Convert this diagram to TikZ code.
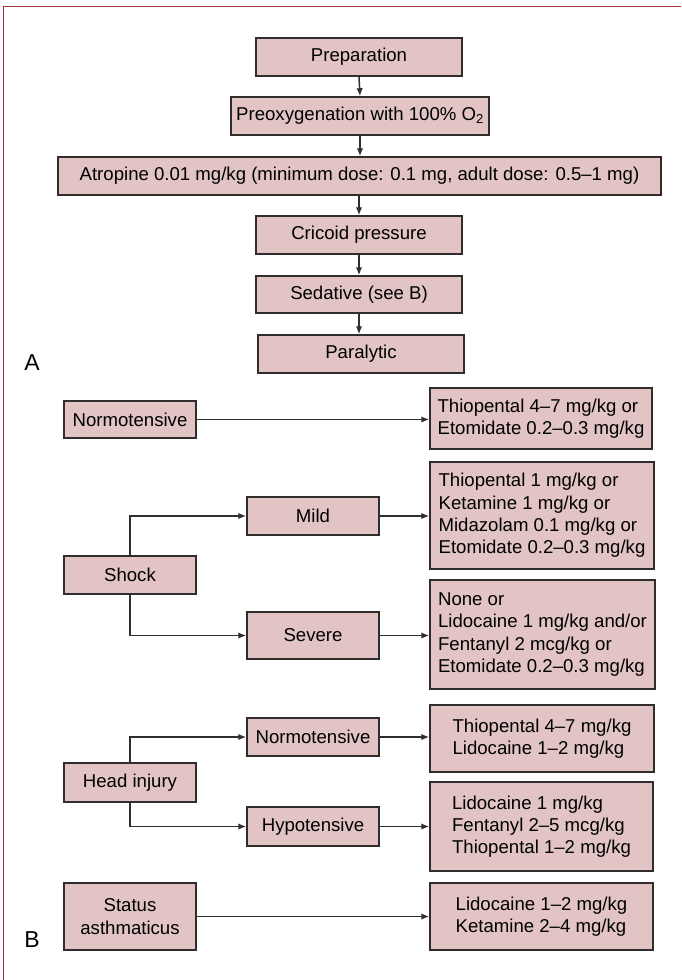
\documentclass[tikz,border=0pt]{standalone}
\usepackage{fontspec}
\setmainfont{Liberation Sans}
\usetikzlibrary{arrows.meta}
\definecolor{boxfill}{RGB}{225,196,195}
\definecolor{boxline}{RGB}{50,45,45}
\definecolor{framecol}{RGB}{160,50,60}
\begin{document}
\begin{tikzpicture}[x=1pt,y=-1pt,
  box/.style={draw=boxline,fill=boxfill,line width=1.5pt,inner sep=0pt,
    font=\fontsize{18.6}{22.3}\selectfont,align=center},
  drug/.style={box,align=left},
  arr/.style={draw=boxline,line width=1.5pt,-{Latex[length=8pt,width=6.5pt]}},
  lab/.style={font=\fontsize{23}{23}\selectfont,inner sep=0pt}]
\useasboundingbox (0,0) rectangle (681,980);
\fill[white] (0,0) rectangle (681,980);
\draw[framecol,line width=1.2pt] (3.5,980) -- (3.5,6.5) -- (681,6.5);

% Part A
\node[box,minimum width=206pt,minimum height=38pt] (prep) at (359,57) {Preparation};
\node[box,minimum width=258pt,minimum height=38pt] (preox) at (360,116) {Preoxygenation with 100\% O\textsubscript{2}};
\node[box,minimum width=603pt,minimum height=38pt] (atro) at (359.5,176) {Atropine 0.01 mg/kg (minimum dose: 0.1 mg, adult dose: 0.5–1 mg)};
\node[box,minimum width=206pt,minimum height=38pt] (cric) at (359,235) {Cricoid pressure};
\node[box,minimum width=206pt,minimum height=37pt] (sed) at (359,294.5) {Sedative (see B)};
\node[box,minimum width=206pt,minimum height=38pt] (para) at (361,354) {Paralytic};
\node[lab] (labA) at (32,363) {A};

\draw[arr] (prep.south) -- (preox.north);
\draw[arr] (preox.south) -- (atro.north -| preox.south);
\draw[arr] (atro.south -| cric.north) -- (cric.north);
\draw[arr] (cric.south) -- (sed.north);
\draw[arr] (sed.south) -- (sed.south |- para.north);

% Part B
\node[box,minimum width=132pt,minimum height=37pt] (nt) at (130,419.5) {Normotensive};
\node[drug,minimum width=222pt,minimum height=61pt] (ntd) at (541,418.5) {Thiopental 4–7 mg/kg or\\Etomidate 0.2–0.3 mg/kg};

\node[box,minimum width=132pt,minimum height=38pt] (mild) at (313,516) {Mild};
\node[drug,minimum width=224pt,minimum height=107pt] (mildd) at (542,515.5) {Thiopental 1 mg/kg or\\Ketamine 1 mg/kg or\\Midazolam 0.1 mg/kg or\\Etomidate 0.2–0.3 mg/kg};
\node[box,minimum width=132pt,minimum height=38pt] (shock) at (130,575) {Shock};
\node[box,minimum width=132pt,minimum height=47pt] (sev) at (313,635.5) {Severe};
\node[drug,minimum width=225pt,minimum height=109pt] (sevd) at (542.5,634.5) {None or\\Lidocaine 1 mg/kg and/or\\Fentanyl 2 mcg/kg or\\Etomidate 0.2–0.3 mg/kg};

\node[box,minimum width=132pt,minimum height=38pt] (hn) at (313,737) {Normotensive};
\node[drug,minimum width=224pt,minimum height=67pt] (hnd) at (542,738.5) {Thiopental 4–7 mg/kg\\Lidocaine 1–2 mg/kg};
\node[box,minimum width=132pt,minimum height=39pt] (head) at (130,782.5) {Head injury};
\node[box,minimum width=132pt,minimum height=39pt] (hyp) at (313,826.5) {Hypotensive};
\node[drug,minimum width=223pt,minimum height=89pt] (hypd) at (541.5,826.5) {Lidocaine 1 mg/kg\\Fentanyl 2–5 mcg/kg\\Thiopental 1–2 mg/kg};

\node[box,minimum width=132pt,minimum height=67pt] (stat) at (130,916.5) {Status\\asthmaticus};
\node[drug,minimum width=223pt,minimum height=67pt] (statd) at (541.5,916.5) {Lidocaine 1–2 mg/kg\\Ketamine 2–4 mg/kg};
\node[lab] (labB) at (32,940) {B};

\draw[arr] (nt.east) -- (nt.east -| ntd.west);
\draw[arr] (shock.north) |- (mild.west);
\draw[arr] (shock.south) |- (sev.west);
\draw[arr] (mild.east) -- (mild.east -| mildd.west);
\draw[arr] (sev.east) -- (sev.east -| sevd.west);
\draw[arr] (head.north) |- (hn.west);
\draw[arr] (head.south) |- (hyp.west);
\draw[arr] (hn.east) -- (hn.east -| hnd.west);
\draw[arr] (hyp.east) -- (hyp.east -| hypd.west);
\draw[arr] (stat.east) -- (stat.east -| statd.west);
\end{tikzpicture}
\end{document}
